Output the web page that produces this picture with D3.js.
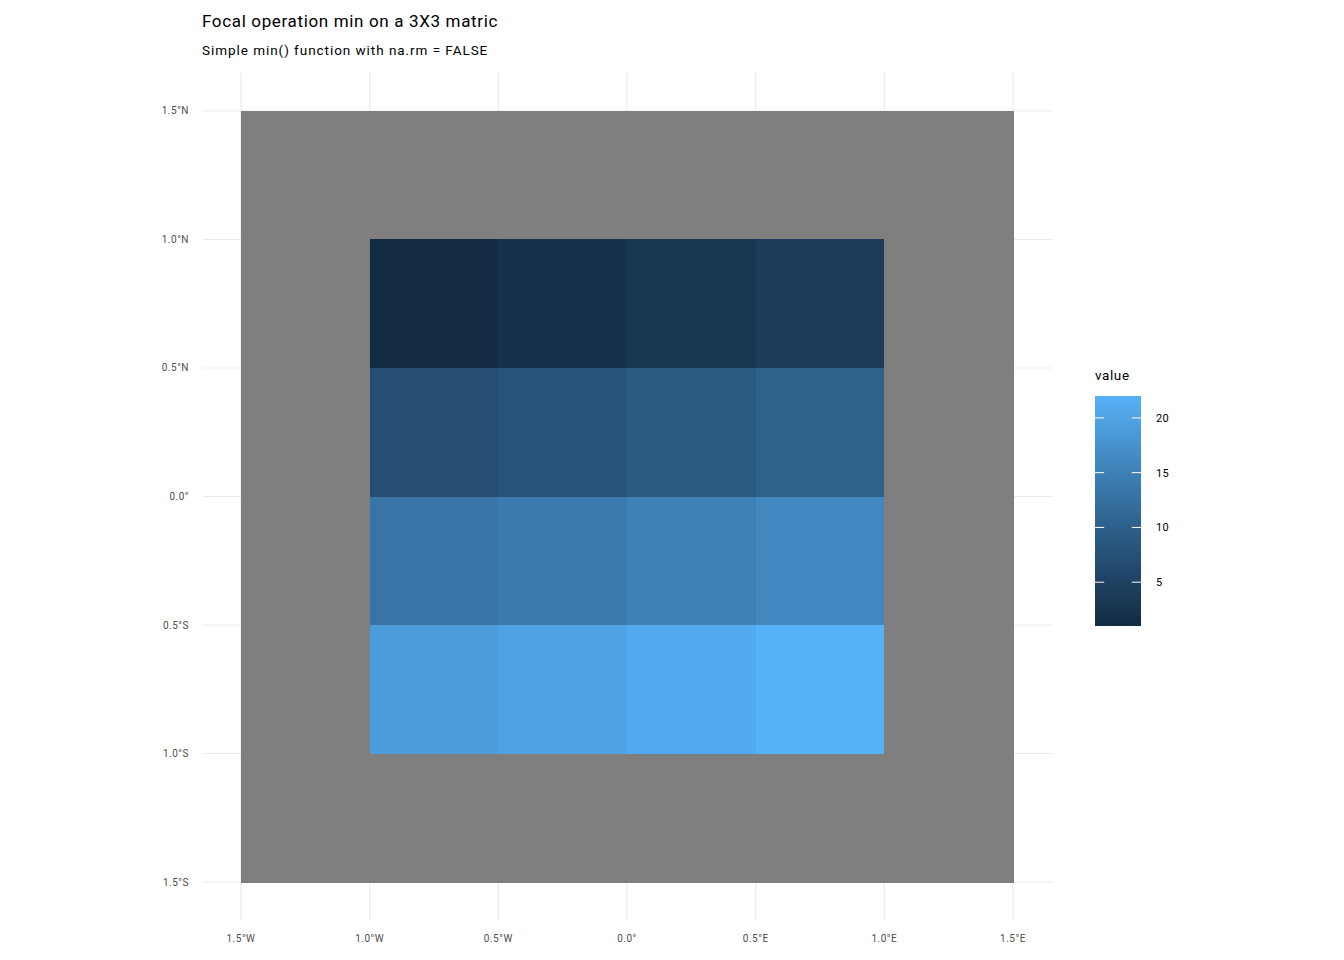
<!DOCTYPE html>
<html>
<head>
<meta charset="utf-8">
<script src="https://cdn.jsdelivr.net/npm/d3@7"></script>
<style>
  html, body { margin: 0; padding: 0; background: #fff; }
  text { font-family: Roboto, "Open Sans", sans-serif; }
</style>
</head>
<body>
<svg id="chart" width="1344" height="960"></svg>
<script>
// ---- data ----
const xCenters = [-1.25, -0.75, -0.25, 0.25, 0.75, 1.25];
const yCenters = [1.25, 0.75, 0.25, -0.25, -0.75, -1.25];
// rows top to bottom, null = NA
const row1 = [null, null, null, null, null, null];
const row2 = [null, 1, 2, 3, 4, null];
const row3 = [null, 7, 8, 9, 10, null];
const row4 = [null, 13, 14, 15, 16, null];
const row5 = [null, 19, 20, 21, 22, null];
const row6 = [null, null, null, null, null, null];
const gridRows = [row1, row2, row3, row4, row5, row6];
const xTicks = [-1.5, -1, -0.5, 0, 0.5, 1, 1.5];
const xTickLabels = ["1.5°W", "1.0°W", "0.5°W", "0.0°", "0.5°E", "1.0°E", "1.5°E"];
const yTicks = [1.5, 1, 0.5, 0, -0.5, -1, -1.5];
const yTickLabels = ["1.5°N", "1.0°N", "0.5°N", "0.0°", "0.5°S", "1.0°S", "1.5°S"];
const legendTicks = [5, 10, 15, 20];
const cellSize = 0.5;

const svg = d3.select("#chart");

const x = d3.scaleLinear().domain([-1.65, 1.65]).range([202.4, 1051.6]);
const y = d3.scaleLinear().domain([1.65, -1.65]).range([72.4, 920.6]);

const vals = gridRows.flat().filter(v => v !== null);
const vmin = d3.min(vals), vmax = d3.max(vals);
const color = d3.scaleLinear().domain([vmin, vmax]).range(["#132B43", "#56B1F7"]).interpolate(d3.interpolateLab);

// grid lines
const grid = svg.append("g");
grid.selectAll("line.v").data(xTicks).join("line")
  .attr("x1", d => x(d)).attr("x2", d => x(d))
  .attr("y1", y.range()[0]).attr("y2", y.range()[1])
  .attr("stroke", "#EBEBEB").attr("stroke-width", 1.07);
grid.selectAll("line.h").data(yTicks).join("line")
  .attr("y1", d => y(d)).attr("y2", d => y(d))
  .attr("x1", x.range()[0]).attr("x2", x.range()[1])
  .attr("stroke", "#EBEBEB").attr("stroke-width", 1.07);

// cells
const cells = [];
gridRows.forEach((row, i) => row.forEach((v, j) => cells.push({x: xCenters[j], y: yCenters[i], v})));
svg.append("g").attr("shape-rendering", "crispEdges").selectAll("rect").data(cells).join("rect")
  .attr("x", d => x(d.x - cellSize / 2))
  .attr("y", d => y(d.y + cellSize / 2))
  .attr("width", d => x(d.x + cellSize / 2) - x(d.x - cellSize / 2) + 0.5)
  .attr("height", d => y(d.y - cellSize / 2) - y(d.y + cellSize / 2) + 0.5)
  .attr("fill", d => d.v === null ? "#7F7F7F" : color(d.v));

// axes labels
svg.append("g").selectAll("text").data(xTicks).join("text")
  .attr("x", d => x(d)).attr("y", 942)
  .attr("text-anchor", "middle")
  .attr("font-size", 10).attr("letter-spacing", 0.5).attr("fill", "#4D4D4D")
  .text((d, i) => xTickLabels[i]);
svg.append("g").selectAll("text").data(yTicks).join("text")
  .attr("x", 189).attr("y", d => y(d) + 3.5)
  .attr("text-anchor", "end")
  .attr("font-size", 10).attr("letter-spacing", 0.5).attr("fill", "#4D4D4D")
  .text((d, i) => yTickLabels[i]);

// title
svg.append("text").attr("x", 202).attr("y", 27).attr("font-size", 17).attr("letter-spacing", 0.65).attr("fill", "#000").text("Focal operation min on a 3X3 matric");
svg.append("text").attr("x", 202).attr("y", 55).attr("font-size", 13.5).attr("letter-spacing", 0.95).attr("fill", "#000").text("Simple min() function with na.rm = FALSE");

// legend
const lg = svg.append("g");
const ly = d3.scaleLinear().domain([vmin, vmax]).range([626, 396]);
const defs = svg.append("defs");
const grad = defs.append("linearGradient").attr("id", "lgrad").attr("x1", 0).attr("y1", 1).attr("x2", 0).attr("y2", 0);
d3.range(0, 1.0001, 0.05).forEach(t => {
  grad.append("stop").attr("offset", t).attr("stop-color", color(vmin + t * (vmax - vmin)));
});
lg.append("rect").attr("x", 1095).attr("y", ly(vmax)).attr("width", 46).attr("height", ly(vmin) - ly(vmax)).attr("fill", "url(#lgrad)");
lg.selectAll("line.l").data(legendTicks).join("line")
  .attr("x1", 1095).attr("x2", 1104.2).attr("y1", d => ly(d)).attr("y2", d => ly(d))
  .attr("stroke", "#fff").attr("stroke-width", 1);
lg.selectAll("line.r").data(legendTicks).join("line")
  .attr("x1", 1131.8).attr("x2", 1141).attr("y1", d => ly(d)).attr("y2", d => ly(d))
  .attr("stroke", "#fff").attr("stroke-width", 1);
lg.selectAll("text").data(legendTicks).join("text")
  .attr("x", 1156).attr("y", d => ly(d) + 4)
  .attr("font-size", 11).attr("letter-spacing", 0.4).attr("fill", "#000")
  .text(d => d);
lg.append("text").attr("x", 1095).attr("y", 380).attr("font-size", 13.5).attr("letter-spacing", 0.6).attr("fill", "#000").text("value");
</script>
</body>
</html>
